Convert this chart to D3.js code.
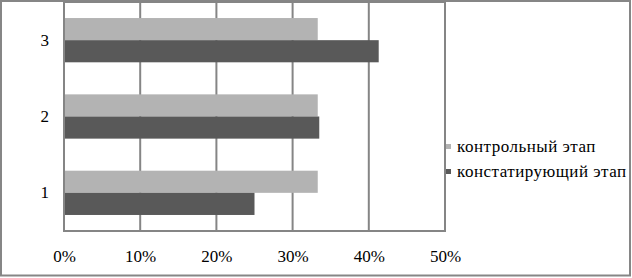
<!DOCTYPE html>
<html>
<head>
<meta charset="utf-8">
<script src="https://cdn.jsdelivr.net/npm/d3@7"></script>
<style>
  body { margin: 0; background: #fff; }
  svg { display: block; }
</style>
</head>
<body>
<svg id="chart" width="632" height="278"></svg>
<script>
// data
var categories = ['3', '2', '1'];
var seriesNames = ['контрольный этап', 'констатирующий этап'];
var controlValues = [0.333, 0.333, 0.333];     // per category 3, 2, 1
var statingValues = [0.413, 0.335, 0.25];
var xTicks = [0, 0.1, 0.2, 0.3, 0.4, 0.5];
var seriesColors = ['#b3b3b3', '#595959'];

var svg = d3.select('#chart');
var plot = { left: 64, right: 445, top: 2, bottom: 231 };
var serif = "'Liberation Serif'";

// outer frame
svg.append('rect')
  .attr('x', 1).attr('y', 1)
  .attr('width', 629).attr('height', 274.5)
  .attr('fill', 'none')
  .attr('stroke', '#868686')
  .attr('stroke-width', 2);

var x = d3.scaleLinear().domain([0, 0.5]).range([plot.left, plot.right]);
var y = d3.scaleBand().domain(categories)
  .range([plot.top, plot.bottom])
  .paddingInner(0.42).paddingOuter(0.21);
var ySub = d3.scaleBand().domain(seriesNames).range([0, y.bandwidth()]);

// gridlines
svg.append('g').selectAll('line')
  .data(xTicks)
  .enter().append('line')
  .attr('x1', d => x(d)).attr('x2', d => x(d))
  .attr('y1', plot.top).attr('y2', plot.bottom)
  .attr('stroke', '#858585')
  .attr('stroke-width', 2);

svg.append('g').selectAll('line')
  .data([plot.top, plot.bottom])
  .enter().append('line')
  .attr('x1', plot.left - 1).attr('x2', plot.right + 1)
  .attr('y1', d => d).attr('y2', d => d)
  .attr('stroke', '#858585')
  .attr('stroke-width', 2);

// bars
var rows = categories.map((c, i) => ({ cat: c, vals: [controlValues[i], statingValues[i]] }));
var groups = svg.append('g').selectAll('g')
  .data(rows)
  .enter().append('g')
  .attr('transform', d => `translate(0,${y(d.cat)})`);

groups.selectAll('rect')
  .data(d => d.vals.map((v, i) => ({ name: seriesNames[i], v: v, i: i })))
  .enter().append('rect')
  .attr('x', x(0) + 1)
  .attr('y', d => ySub(d.name))
  .attr('width', d => x(d.v) - x(0) - 1)
  .attr('height', ySub.bandwidth())
  .attr('fill', d => seriesColors[d.i]);

// axes (text only, lines drawn above)
var xAxis = svg.append('g')
  .attr('transform', `translate(0,${plot.bottom})`)
  .call(d3.axisBottom(x).tickValues(xTicks).tickFormat(d3.format('.0%')).tickSize(0).tickPadding(19));
xAxis.select('.domain').remove();
xAxis.selectAll('text')
  .style('font-family', serif)
  .style('font-size', '17px')
  .attr('fill', '#000');

var yAxis = svg.append('g')
  .attr('transform', `translate(${plot.left},0)`)
  .call(d3.axisLeft(y).tickSize(0).tickPadding(15));
yAxis.select('.domain').remove();
yAxis.selectAll('text')
  .style('font-family', serif)
  .style('font-size', '17px')
  .attr('fill', '#000');

// legend
var legend = svg.append('g').attr('transform', 'translate(446,0)');
var items = legend.selectAll('g')
  .data(seriesNames)
  .enter().append('g')
  .attr('transform', (d, i) => `translate(0,${152 + i * 25})`);
items.append('rect')
  .attr('x', 0).attr('y', -8)
  .attr('width', 5).attr('height', 5)
  .attr('fill', (d, i) => seriesColors[i]);
items.append('text')
  .attr('x', 11).attr('y', 0)
  .style('font-family', serif)
  .style('font-size', '17px')
  .style('letter-spacing', '0.5px')
  .text(d => d);
</script>
</body>
</html>
